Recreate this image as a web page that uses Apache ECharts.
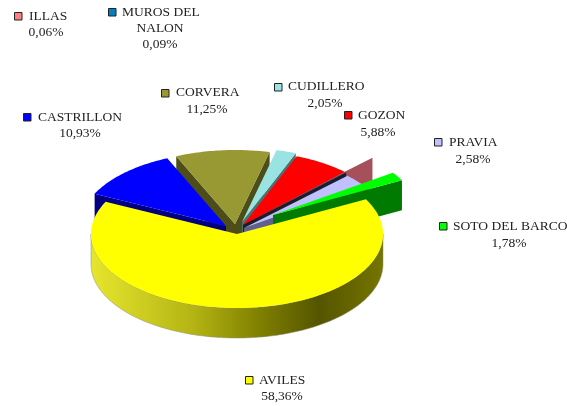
<!DOCTYPE html>
<html>
<head>
<meta charset="utf-8">
<style>html,body{margin:0;padding:0;background:#fff}#c{width:567px;height:406px}</style>
<script src="https://cdn.jsdelivr.net/npm/echarts@6/dist/echarts.min.js"></script>
</head>
<body>
<div id="c"></div>
<script>
// Data, clockwise from the AVILES slice
var categories = ['AVILES','CASTRILLON','CORVERA','CUDILLERO','GOZON','ILLAS','MUROS DEL NALON','','PRAVIA','SOTO DEL BARCO'];
var shares = [58.36,10.93,11.25,2.05,5.88,0.06,0.09,0.05,2.58,1.78];

// Styles
var topColors  = ['#ffff00','#0000ff','#999933','#99e3e3','#ff0000','#ff8080','#0080c0','#a5505a','#c0c0ff','#00ff00'];
var faceColors = ['#808000','#000080','#4d4d1a','#4d7272','#800000','#402020','#1c1c2a','#a5505a','#606090','#007a00'];
var keyColors  = ['#ffff00','#0000ff','#999933','#99e3e3','#ff0000','#ff8080','#0080c0',null,'#c0c0ff','#00ff00'];
var explodeX = [0,-11,-2,5,6,6,6,32,7,36];
var explodeY = [0,-8,-10,-12,-9,-9,-9,-24,-6,-19];
var paintOrder = [7,2,3,4,5,6,8,9,1,0];
// key x, key y, name x, name y, value centre x, value y
var labelBoxes = {
  0:[245,376,259,380,282,396], 1:[23,113,38,117,80,133], 2:[161,89,176,92,207,109],
  3:[274,83,288,86,325,103], 4:[344,111,358,115,378,132], 5:[14,12,29,16,46,32],
  6:[108,8,122,12,160,44], 8:[434,138,449,142,473,159], 9:[439,222,453,226,509,243]
};

var CX=237, CY=234, RX=146, RY=74, DEPTH=30, START=-118;
var FONT='13.5px "Liberation Serif", serif', TXT='#222';
var rad=Math.PI/180;
var total=shares.reduce(function(a,b){return a+b},0);

// Foreshortening of the drawn angle (front/left stretched, back compressed)
function warp(a){
  if(a>=194) return a;
  var x=(a-START)/(194-START);
  return a+8*Math.sin(Math.PI*Math.pow(x,2.15));
}
var edges=[],acc=START;
shares.forEach(function(v){var a=acc;acc+=v/total*360;edges.push([warp(a),warp(acc)]);});

function pt(a,ox,oy,d){return [CX+ox-RX*Math.sin(a*rad),CY+oy+RY*Math.cos(a*rad)+(d||0)];}
function arc(a,b,ox,oy,d){
  var p=[],n=Math.max(2,Math.ceil(Math.abs(b-a)));
  for(var i=0;i<=n;i++)p.push(pt(a+(b-a)*i/n,ox,oy,d));
  return p;
}
function face(a,ox,oy,fill){
  var r=pt(a,ox,oy,0),rb=pt(a,ox,oy,DEPTH);
  return {type:'polygon',shape:{points:[[CX+ox,CY+oy],r,rb,[CX+ox,CY+oy+DEPTH]]},style:{fill:fill}};
}
var rimGradient={type:'linear',x:0,y:0,x2:1,y2:0,colorStops:[
  {offset:0,color:'#e6e62e'},{offset:0.35,color:'#b4b414'},{offset:0.58,color:'#7f7f00'},
  {offset:0.78,color:'#555500'},{offset:1,color:'#757500'}]};

function renderSlice(params){
  var i=paintOrder[params.dataIndex], e=edges[i], ox=explodeX[i], oy=explodeY[i], kids=[];
  var s=e[0], t=e[1];
  var sn=Math.sin(s*rad), tn=Math.sin(t*rad);
  if(sn>0) kids.push(face(s,ox,oy,faceColors[i]));
  if(tn<0) kids.push(face(t,ox,oy,faceColors[i]));
  var lo=Math.max(s,-90), hi=Math.min(t,90);
  if(hi>lo){
    var rim=arc(lo,hi,ox,oy,0).concat(arc(hi,lo,ox,oy,DEPTH));
    kids.push({type:'polygon',shape:{points:rim},
      style:{fill:i===0?rimGradient:faceColors[i],stroke:'#8a8a70',lineWidth:0.5}});
  }
  var top=[[CX+ox,CY+oy]].concat(arc(s,t,ox,oy,0));
  if(i!==7) kids.push({type:'polygon',shape:{points:top},style:{fill:topColors[i]}});
  return {type:'group',children:kids};
}

function txt(s,x,y,align){
  return {type:'text',style:{text:s,x:x,y:y,align:align,verticalAlign:'middle',
    textAlign:align,textVerticalAlign:'middle',font:FONT,fill:TXT}};
}
var labelIdx=Object.keys(labelBoxes).map(Number);
function renderLabel(params){
  var i=labelIdx[params.dataIndex], b=labelBoxes[i], kids=[];
  kids.push({type:'rect',shape:{x:b[0]+0.5,y:b[1]+0.5,width:7.5,height:7.5},
    style:{fill:keyColors[i],stroke:'#222',lineWidth:1}});
  var name=categories[i];
  if(name==='MUROS DEL NALON'){
    kids.push(txt('MUROS DEL',b[2],b[3],'left'));
    kids.push(txt('NALON',b[4],28,'center'));
  } else kids.push(txt(name,b[2],b[3],'left'));
  kids.push(txt(shares[i].toFixed(2).replace('.',',')+'%',b[4],b[5],'center'));
  return {type:'group',children:kids};
}

var chart=echarts.init(document.getElementById('c'),null,{renderer:'canvas'});
chart.setOption({
  animation:false,
  backgroundColor:'#fff',
  series:[
    {type:'custom',coordinateSystem:'none',silent:true,renderItem:renderSlice,
     data:paintOrder.map(function(i){return shares[i]})},
    {type:'custom',coordinateSystem:'none',silent:true,renderItem:renderLabel,
     data:labelIdx.map(function(i){return shares[i]})}
  ]
});
</script>
</body>
</html>
